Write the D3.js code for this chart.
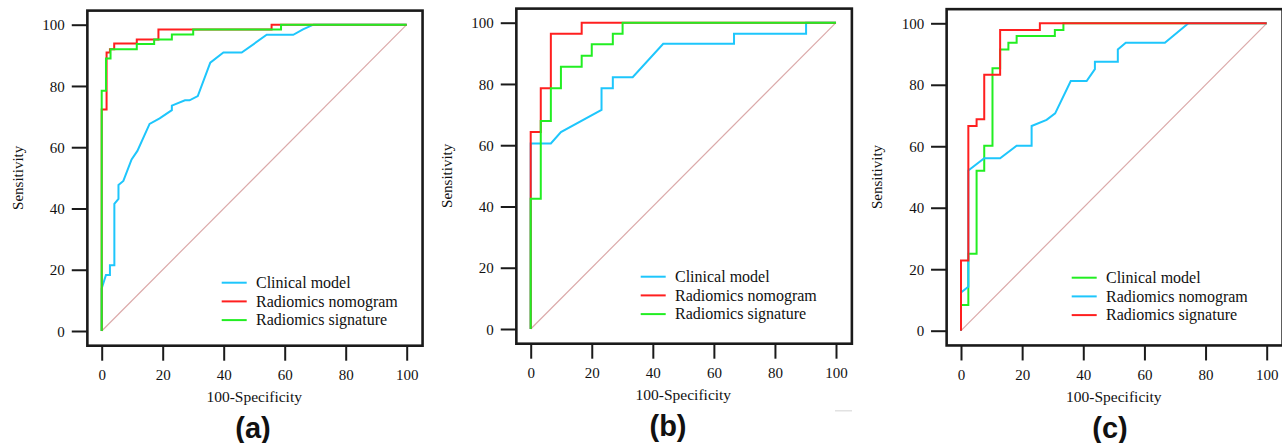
<!DOCTYPE html>
<html>
<head>
<meta charset="utf-8">
<script src="https://cdn.jsdelivr.net/npm/d3@7"></script>
<style>
  body { margin: 0; background: #fff; }
  svg { display: block; }
  text { font-family: "Liberation Serif", "Times New Roman", serif; fill: #111; }
</style>
</head>
<body>
<svg id="chart" width="1282" height="443"></svg>
<script>
  // ---- data (100-specificity, sensitivity) ----
  var tickValues = [0, 20, 40, 60, 80, 100];
  var diagonal = [[0, 0], [100, 100]];

  // panel (a)
  var aNames = ["Clinical model", "Radiomics nomogram", "Radiomics signature"];
  var aClinical = [[0,0],[0,13.9],[1.4,18.3],[2.7,18.3],[2.7,21.5],[4.15,21.5],[4.15,41.5],[5.5,43.1],[5.5,47.7],[7.1,49],
    [9.8,56],[11.7,58.8],[15.7,67.6],[19,69.4],[23,72.1],[23,73.6],[27.3,75.3],[28.8,75.3],[31.5,76.7],[35.6,87.6],
    [39.9,90.9],[45.9,90.9],[54.1,96.7],[62.8,96.7],[66,98.5],[69.4,100],[100,100]];
  var aNomogram = [[0,0],[0,72.3],[1.6,72.3],[1.6,90.9],[2.7,90.9],[2.7,92],[4.1,92],[4.1,93.9],[11.5,93.9],[11.5,95.2],
    [18.6,95.2],[18.6,98.4],[55.7,98.4],[55.7,100],[100,100]];
  var aSignature = [[0,0],[0,78.4],[1.4,78.4],[1.4,89],[2.9,89],[2.9,92],[11.5,92],[11.5,93.7],[17.2,93.7],[17.2,95.2],
    [23,95.2],[23,96.8],[30,96.8],[30,98.4],[58.8,98.4],[58.8,100],[100,100]];

  // panel (b)
  var bNames = ["Clinical model", "Radiomics nomogram", "Radiomics signature"];
  var bClinical = [[0,0],[0,60.6],[6.6,60.6],[9.9,64.3],[23.2,71.5],[23.2,78.6],[26.9,78.6],[26.9,82.2],[33.4,82.2],
    [43.4,93.1],[66.6,93.1],[66.6,96.4],[90.2,96.4],[90.2,100],[100,100]];
  var bNomogram = [[0,0],[0,64.3],[3.3,64.3],[3.3,78.6],[6.6,78.6],[6.6,96.4],[16.7,96.4],[16.7,100],[100,100]];
  var bSignature = [[0,0],[0,42.5],[3.3,42.5],[3.3,67.9],[6.6,67.9],[6.6,78.6],[9.9,78.6],[9.9,85.6],[16.7,85.6],
    [16.7,89.2],[20,89.2],[20,93],[26.9,93],[26.9,96.4],[30.1,96.4],[30.1,100],[100,100]];

  // panel (c)
  var cNames = ["Clinical model", "Radiomics nomogram", "Radiomics signature"];
  var cClinical = [[0,0],[0,8.4],[2.4,8.4],[2.4,25],[5.1,25],[5.1,52],[7.6,52],[7.6,60.2],[10.3,60.2],[10.3,85.4],
    [12.8,85.4],[12.8,91.5],[15.5,91.5],[15.5,93.7],[18.2,93.7],[18.2,95.9],[30.7,95.9],[30.7,97.8],[33.5,97.8],
    [33.5,100],[100,100]];
  var cNomogram = [[0,0],[0,12.4],[2.4,14.3],[2.4,52.1],[7.6,56.1],[12.8,56.1],[18.2,60.2],[23.1,60.2],[23.1,66.6],
    [28,68.6],[30.8,70.7],[35.9,81.2],[41.1,81.2],[43.8,85.1],[43.8,87.5],[51.3,87.5],[51.3,91.5],[53.9,93.7],
    [66.7,93.7],[74.4,100],[100,100]];
  var cSignature = [[0,0],[0,22.8],[2.4,22.8],[2.4,66.6],[5.1,66.6],[5.1,68.8],[7.6,68.8],[7.6,83.3],[12.8,83.3],
    [12.8,97.8],[25.8,97.8],[25.8,100],[100,100]];

  var blue = "#1ec6fc", red = "#ff1f1f", green = "#22ee22";

  // ---- layout ----
  var panels = [
    { tag: "(a)", x0: 101.7, x1: 406.7, y0: 331,   y1: 24.7, cx: 253,  lx: 221.7, ly: 282.7,
      names: aNames, series: [aClinical, aNomogram, aSignature], colors: [blue, red, green] },
    { tag: "(b)", x0: 530.7, x1: 836,   y0: 329,   y1: 22.7, cx: 668,  lx: 640.7, ly: 276.7,
      names: bNames, series: [bClinical, bNomogram, bSignature], colors: [blue, red, green] },
    { tag: "(c)", x0: 961,   x1: 1266.7, y0: 330.7, y1: 23.3, cx: 1110, lx: 1071.7, ly: 277.7,
      names: cNames, series: [cClinical, cNomogram, cSignature], colors: [green, blue, red] }
  ];

  var svg = d3.select("#chart");

  panels.forEach(function(p){
    var x = d3.scaleLinear().domain([0, 100]).range([p.x0, p.x1]);
    var y = d3.scaleLinear().domain([0, 100]).range([p.y0, p.y1]);
    var g = svg.append("g");

    var bx0 = x(-4.7), bx1 = x(105.2), by0 = y(104.6), by1 = y(-4.8);

    var line = d3.line().x(function(d){ return x(d[0]); }).y(function(d){ return y(d[1]); });

    // reference diagonal
    g.append("path")
      .attr("d", line(diagonal))
      .attr("fill", "none")
      .attr("stroke", "#dba9a9")
      .attr("stroke-width", 1.2);

    // ROC curves
    p.series.forEach(function(s, i){
      g.append("path")
        .attr("d", line(s))
        .attr("fill", "none")
        .attr("stroke", p.colors[i])
        .attr("stroke-width", 2)
        .attr("stroke-linejoin", "miter");
    });

    // legend
    p.names.forEach(function(n, i){
      var ry = p.ly + i * 18.7;
      g.append("line")
        .attr("x1", p.lx).attr("x2", p.lx + 25)
        .attr("y1", ry).attr("y2", ry)
        .attr("stroke", p.colors[i]).attr("stroke-width", 2);
      g.append("text")
        .attr("x", p.lx + 34.3).attr("y", ry)
        .attr("dy", "0.33em")
        .style("font-size", "16px")
        .text(n);
    });

    // box
    g.append("rect")
      .attr("x", bx0).attr("y", by0)
      .attr("width", bx1 - bx0).attr("height", by1 - by0)
      .attr("fill", "none")
      .attr("stroke", "#1a1a1a")
      .attr("stroke-width", 2.6);

    // axes
    var xAxis = g.append("g")
      .attr("transform", "translate(0," + by1 + ")")
      .call(d3.axisBottom(x).tickValues(tickValues).tickSize(15).tickSizeOuter(0));
    var yAxis = g.append("g")
      .attr("transform", "translate(" + bx0 + ",0)")
      .call(d3.axisLeft(y).tickValues(tickValues).tickSize(15.6).tickSizeOuter(0));

    [xAxis, yAxis].forEach(function(a){
      a.select(".domain").remove();
      a.selectAll(".tick line").attr("stroke", "#1a1a1a").attr("stroke-width", 2);
      a.selectAll(".tick text")
        .attr("fill", "#111")
        .style("font-family", '"Liberation Serif", "Times New Roman", serif')
        .style("font-size", "15px");
    });
    xAxis.selectAll(".tick text").attr("y", p.y0 + 49 - by1).attr("dy", null);
    yAxis.selectAll(".tick text").attr("x", -22.5).attr("dy", "0.34em");

    // axis titles
    g.append("text")
      .attr("x", (p.x0 + p.x1) / 2).attr("y", p.y0 + 71)
      .attr("text-anchor", "middle")
      .style("font-size", "15.5px")
      .text("100-Specificity");
    g.append("text")
      .attr("transform", "translate(" + (bx0 - 69.5) + "," + ((p.y0 + p.y1) / 2 + 0) + ") rotate(-90)")
      .attr("text-anchor", "middle")
      .attr("dy", "0.34em")
      .style("font-size", "15px")
      .text("Sensitivity");

    // panel tag
    g.append("text")
      .attr("x", p.cx).attr("y", p.y0 + 107)
      .attr("text-anchor", "middle")
      .style("font-family", '"Liberation Sans", Arial, sans-serif')
      .style("font-weight", "bold")
      .style("font-size", "29px")
      .text(p.tag);
  });

  // faint scan mark under panel (b)
  svg.append("rect")
    .attr("x", 835).attr("y", 410).attr("width", 17).attr("height", 1.5)
    .attr("fill", "#e2e2e2");
</script>
</body>
</html>
